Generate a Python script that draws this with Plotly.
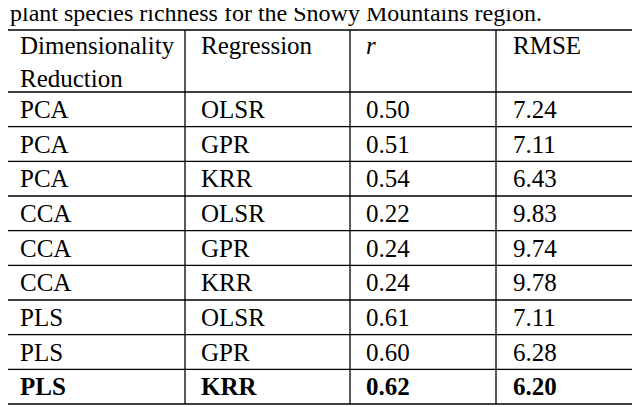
import plotly.graph_objects as go

title = "plant species richness for the Snowy Mountains region."
headers = ["Dimensionality<br>Reduction", "Regression", "<i>r</i>", "RMSE"]
dim_red = ["PCA", "PCA", "PCA", "CCA", "CCA", "CCA", "PLS", "PLS", "PLS"]
regression = ["OLSR", "GPR", "KRR", "OLSR", "GPR", "KRR", "OLSR", "GPR", "KRR"]
r_vals = ["0.50", "0.51", "0.54", "0.22", "0.24", "0.24", "0.61", "0.60", "0.62"]
rmse_vals = ["7.24", "7.11", "6.43", "9.83", "9.74", "9.78", "7.11", "6.28", "6.20"]
bold_row = 8

W, H = 640, 407
OFF = 8  # compensate page body margin
col_lines = [2, 185, 350, 496, 637]
text_x = [18, 199, 364, 511]
top, head_bot, bottom = 30, 92, 404
row_h = (bottom - head_bot) / len(dim_red)

fig = go.Figure()
shapes = []
line = dict(color="black", width=1.3)
for x in col_lines:
    shapes.append(dict(type="line", x0=x, x1=x, y0=top, y1=bottom, xref="x", yref="y", line=line))
for y in [top, head_bot] + [head_bot + row_h * (i + 1) for i in range(len(dim_red))]:
    shapes.append(dict(type="line", x0=col_lines[0], x1=col_lines[-1], y0=y, y1=y, xref="x", yref="y", line=line))

font = dict(family="Liberation Serif, Times New Roman, serif", size=25, color="black")
ann = [dict(x=OFF, y=13, text=title, xanchor="left", yanchor="middle", showarrow=False,
            font=dict(font, size=24), xref="x", yref="y")]
for j, h in enumerate(headers):
    ann.append(dict(x=text_x[j], y=(top + head_bot) / 2 + 1 if j == 0 else 45, text=h, xanchor="left",
                    yanchor="middle", showarrow=False, font=font, xref="x", yref="y", align="left"))
cols = [dim_red, regression, r_vals, rmse_vals]
for i in range(len(dim_red)):
    yc = head_bot + row_h * (i + 0.5)
    for j, c in enumerate(cols):
        t = c[i]
        if i == bold_row:
            t = "<b>" + t + "</b>"
        ann.append(dict(x=text_x[j], y=yc, text=t, xanchor="left", yanchor="middle", showarrow=False,
                        font=font, xref="x", yref="y"))

fig.update_layout(width=W, height=H, margin=dict(l=0, r=0, t=0, b=0),
                  plot_bgcolor="white", paper_bgcolor="white",
                  xaxis=dict(range=[OFF, W + OFF], visible=False, fixedrange=True),
                  yaxis=dict(range=[H + OFF, OFF], visible=False, fixedrange=True),
                  shapes=shapes, annotations=ann, showlegend=False)
fig.write_html("out.html")
